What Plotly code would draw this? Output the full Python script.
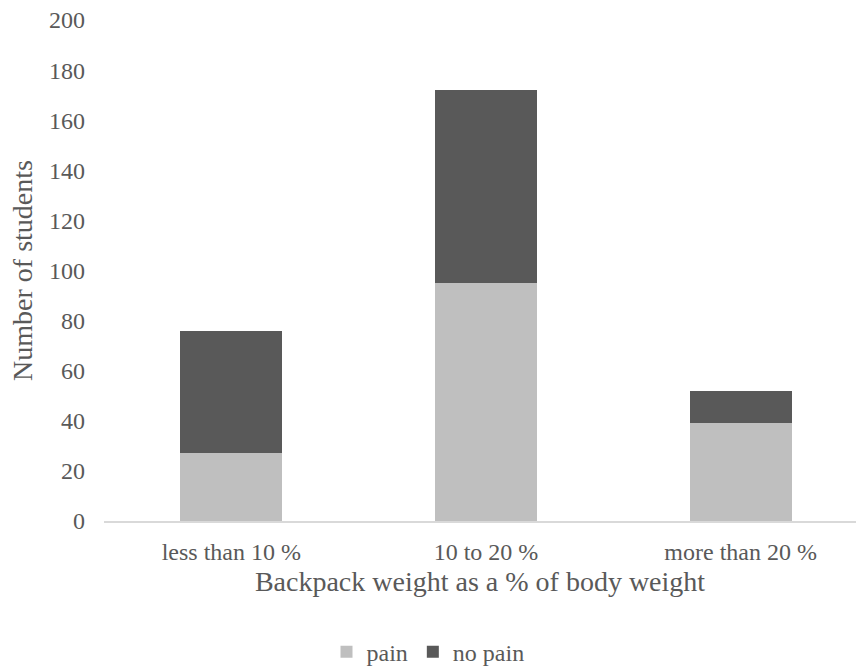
import plotly.graph_objects as go

# Students by backpack load, split by reported pain
categories = ["less than 10 %", "10 to 20 %", "more than 20 %"]
pain = [27, 95, 39]
no_pain = [49, 77, 13]
y_ticks = [0, 20, 40, 60, 80, 100, 120, 140, 160, 180, 200]

FONT = "Liberation Serif, Times New Roman, serif"
TEXT = "#595959"

fig = go.Figure()
fig.add_trace(go.Bar(name="pain", x=categories, y=pain, marker_color="#bfbfbf",
                     marker_line_width=0))
fig.add_trace(go.Bar(name="no pain", x=categories, y=no_pain, marker_color="#595959",
                     marker_line_width=0))

fig.update_layout(
    barmode="stack",
    bargap=0.6,
    width=856, height=671,
    margin=dict(l=104, r=0, t=20, b=150),
    plot_bgcolor="white", paper_bgcolor="white",
    font=dict(family=FONT, color=TEXT, size=24),
    showlegend=True,
    legend=dict(orientation="h", xref="container", yref="container",
                x=0.5, xanchor="center", y=0.028, yanchor="middle",
                font=dict(size=24, family=FONT, color=TEXT),
                itemwidth=30, traceorder="normal"),
)
fig.update_xaxes(
    range=[-0.5, 2.453],
    showline=True, linecolor="#d9d9d9", linewidth=1.5,
    ticks="", showgrid=False,
    tickfont=dict(size=24),
    ticklabelstandoff=8,
    title=dict(text="Backpack weight as a % of body weight",
               font=dict(size=28), standoff=8),
)
fig.update_yaxes(
    range=[0, 200], tickvals=y_ticks,
    showgrid=False, zeroline=False, showline=False, ticks="",
    tickfont=dict(size=24),
    ticklabelstandoff=18,
    title=dict(text="Number of students", font=dict(size=28), standoff=8),
)

fig.write_html("out.html")
